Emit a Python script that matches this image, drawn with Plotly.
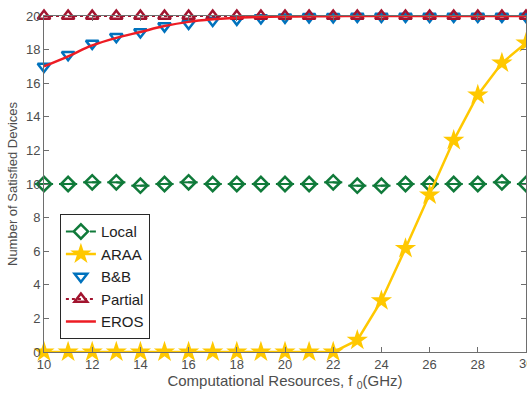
import plotly.graph_objects as go

x = list(range(10, 31))
local = [10.0, 10.0, 10.1, 10.1, 9.9, 10.0, 10.1, 10.0, 10.0, 10.0, 10.0, 10.0, 10.1, 9.9, 9.9, 10.0, 10.0, 10.0, 10.0, 10.1, 10.0]
araa = [0, 0, 0, 0, 0, 0, 0, 0, 0, 0, 0, 0, 0, 0.7, 3.05, 6.17, 9.35, 12.6, 15.3, 17.2, 18.4]
bnb = [17.0, 17.7, 18.37, 18.77, 19.05, 19.4, 19.56, 19.73, 19.8, 19.88, 19.92, 19.95, 19.95, 19.97, 19.97, 19.97, 19.97, 19.97, 19.97, 19.97, 19.97]
partial = [20] * 21
eros = [17.0, 17.6, 18.25, 18.7, 19.05, 19.4, 19.65, 19.8, 19.9, 19.95, 19.97, 19.98, 19.99, 20, 20, 20, 20, 20, 20, 20, 20]
xticks = list(range(10, 31, 2))
yticks = list(range(0, 21, 2))

GREEN = "rgb(16,122,58)"
YELLOW = "rgb(255,200,0)"
BLUE = "rgb(0,114,189)"
DRED = "rgb(162,20,47)"
RED = "rgb(237,28,36)"
TICKC = "rgb(77,77,77)"
FONT = "Liberation Sans, Arial, sans-serif"

fig = go.Figure()
fig.add_trace(go.Scatter(x=x, y=local, name="Local", mode="lines+markers",
                         line=dict(color=GREEN, width=2, dash="7px,17.1px"),
                         marker=dict(symbol="diamond-open", size=11, color=GREEN, line=dict(width=2.5)),
                         cliponaxis=False))
fig.add_trace(go.Scatter(x=x, y=local, name="Local", mode="markers", showlegend=False,
                         marker=dict(symbol="line-ew", size=13, color=GREEN, line=dict(width=2, color=GREEN)),
                         cliponaxis=False, hoverinfo="skip"))
fig.add_trace(go.Scatter(x=x, y=araa, name="ARAA", mode="lines+markers",
                         line=dict(color=YELLOW, width=2.5),
                         marker=dict(symbol="star", size=16, color=YELLOW),
                         cliponaxis=False))
fig.add_trace(go.Scatter(x=x, y=bnb, name="B&B", mode="markers",
                         marker=dict(symbol="triangle-down-open", size=11, color=BLUE, line=dict(width=2.5)),
                         cliponaxis=False))
fig.add_trace(go.Scatter(x=x, y=partial, name="Partial", mode="lines+markers",
                         line=dict(color=DRED, width=2, dash="dot"),
                         marker=dict(symbol="triangle-up-open", size=11, color=DRED, line=dict(width=2.5)),
                         cliponaxis=False))
fig.add_trace(go.Scatter(x=x, y=eros, name="EROS", mode="lines",
                         line=dict(color=RED, width=2.5, shape="spline"),
                         cliponaxis=False))

axis_common = dict(showline=True, linecolor="rgb(110,110,110)", linewidth=1,
                   mirror="ticks", ticks="inside", ticklen=5, tickcolor="rgb(110,110,110)",
                   showgrid=False, zeroline=False,
                   tickfont=dict(size=13, color=TICKC, family=FONT))

fig.update_layout(
    width=527, height=396,
    margin=dict(l=44, r=1, t=16, b=44),
    plot_bgcolor="white", paper_bgcolor="white",
    font=dict(family=FONT, color=TICKC),
    xaxis=dict(range=[10, 30], tickvals=xticks,
               title=dict(text="Computational Resources, f <sub>0</sub>(GHz)", font=dict(size=15, color=TICKC), standoff=2),
               **axis_common),
    yaxis=dict(range=[0, 20], tickvals=yticks,
               title=dict(text="Number of Satisfied Devices", font=dict(size=13, color=TICKC), standoff=5),
               **axis_common),
    legend=dict(x=0.033, y=0.41, xanchor="left", yanchor="top",
                bordercolor="rgb(40,40,40)", borderwidth=1, bgcolor="white",
                font=dict(size=15, color="rgb(30,30,30)"), itemwidth=30,
                tracegroupgap=0),
    showlegend=True,
)

# right-edge tick label that the reference shows cut off
fig.add_annotation(x=xticks[-1], y=0, xref="x", yref="paper", text=str(xticks[-1]),
                   showarrow=False, yanchor="top", yshift=-2,
                   font=dict(size=13, color=TICKC, family=FONT))

fig.write_html("out.html")
